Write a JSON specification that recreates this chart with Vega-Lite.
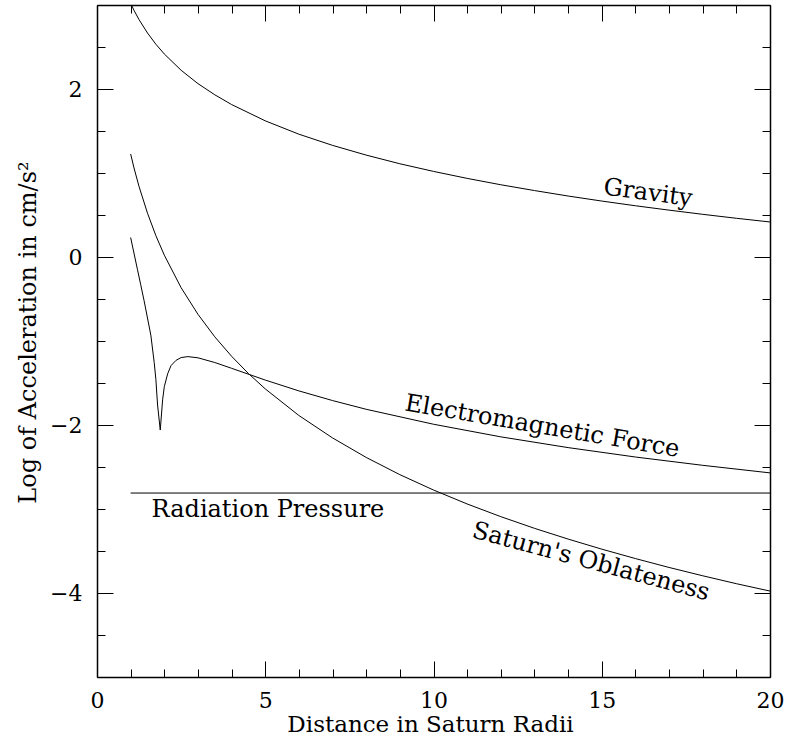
{
  "$schema": "https://vega.github.io/schema/vega-lite/v6.json",
  "width": 673,
  "height": 672,
  "autosize": "none",
  "padding": {"left": 97, "top": 5, "right": 18, "bottom": 66},
  "background": "white",
  "config": {
    "view": {"stroke": null},
    "font": "DejaVu Serif",
    "axis": {
      "grid": false,
      "domainColor": "black",
      "domainWidth": 1.5,
      "tickColor": "black",
      "tickWidth": 1,
      "labelFont": "DejaVu Serif",
      "labelFontSize": 22,
      "labelColor": "black",
      "titleFont": "DejaVu Serif",
      "titleFontSize": 24,
      "titleFontWeight": "normal",
      "titleColor": "black",
      "labelFlush": false,
      "labelOverlap": false
    }
  },
  "datasets": {
    "curves": [
      {"series": "Gravity", "r": 1.0, "a": 3.02},
      {"series": "Gravity", "r": 1.1, "a": 2.936},
      {"series": "Gravity", "r": 1.25, "a": 2.825},
      {"series": "Gravity", "r": 1.5, "a": 2.667},
      {"series": "Gravity", "r": 1.75, "a": 2.533},
      {"series": "Gravity", "r": 2.0, "a": 2.417},
      {"series": "Gravity", "r": 2.5, "a": 2.223},
      {"series": "Gravity", "r": 3.0, "a": 2.064},
      {"series": "Gravity", "r": 3.5, "a": 1.931},
      {"series": "Gravity", "r": 4.0, "a": 1.815},
      {"series": "Gravity", "r": 5.0, "a": 1.621},
      {"series": "Gravity", "r": 6.0, "a": 1.462},
      {"series": "Gravity", "r": 7.0, "a": 1.329},
      {"series": "Gravity", "r": 8.0, "a": 1.213},
      {"series": "Gravity", "r": 9.0, "a": 1.110},
      {"series": "Gravity", "r": 10.0, "a": 1.019},
      {"series": "Gravity", "r": 11.0, "a": 0.936},
      {"series": "Gravity", "r": 12.0, "a": 0.860},
      {"series": "Gravity", "r": 13.0, "a": 0.791},
      {"series": "Gravity", "r": 14.0, "a": 0.726},
      {"series": "Gravity", "r": 15.0, "a": 0.666},
      {"series": "Gravity", "r": 16.0, "a": 0.610},
      {"series": "Gravity", "r": 17.0, "a": 0.558},
      {"series": "Gravity", "r": 18.0, "a": 0.508},
      {"series": "Gravity", "r": 19.0, "a": 0.461},
      {"series": "Gravity", "r": 20.0, "a": 0.417},
      {"series": "Oblateness", "r": 1.0, "a": 1.226},
      {"series": "Oblateness", "r": 1.1, "a": 1.060},
      {"series": "Oblateness", "r": 1.25, "a": 0.838},
      {"series": "Oblateness", "r": 1.5, "a": 0.522},
      {"series": "Oblateness", "r": 1.75, "a": 0.254},
      {"series": "Oblateness", "r": 2.0, "a": 0.022},
      {"series": "Oblateness", "r": 2.5, "a": -0.366},
      {"series": "Oblateness", "r": 3.0, "a": -0.682},
      {"series": "Oblateness", "r": 3.5, "a": -0.950},
      {"series": "Oblateness", "r": 4.0, "a": -1.182},
      {"series": "Oblateness", "r": 4.5, "a": -1.387},
      {"series": "Oblateness", "r": 5.0, "a": -1.570},
      {"series": "Oblateness", "r": 6.0, "a": -1.887},
      {"series": "Oblateness", "r": 7.0, "a": -2.154},
      {"series": "Oblateness", "r": 8.0, "a": -2.386},
      {"series": "Oblateness", "r": 9.0, "a": -2.591},
      {"series": "Oblateness", "r": 10.0, "a": -2.774},
      {"series": "Oblateness", "r": 11.0, "a": -2.940},
      {"series": "Oblateness", "r": 12.0, "a": -3.091},
      {"series": "Oblateness", "r": 13.0, "a": -3.230},
      {"series": "Oblateness", "r": 14.0, "a": -3.358},
      {"series": "Oblateness", "r": 15.0, "a": -3.478},
      {"series": "Oblateness", "r": 16.0, "a": -3.590},
      {"series": "Oblateness", "r": 17.0, "a": -3.696},
      {"series": "Oblateness", "r": 18.0, "a": -3.795},
      {"series": "Oblateness", "r": 19.0, "a": -3.889},
      {"series": "Oblateness", "r": 20.0, "a": -3.977},
      {"series": "Electromagnetic", "r": 1.0, "a": 0.232},
      {"series": "Electromagnetic", "r": 1.2, "a": -0.145},
      {"series": "Electromagnetic", "r": 1.3, "a": -0.331},
      {"series": "Electromagnetic", "r": 1.4, "a": -0.522},
      {"series": "Electromagnetic", "r": 1.5, "a": -0.726},
      {"series": "Electromagnetic", "r": 1.6, "a": -0.930},
      {"series": "Electromagnetic", "r": 1.7, "a": -1.256},
      {"series": "Electromagnetic", "r": 1.75, "a": -1.459},
      {"series": "Electromagnetic", "r": 1.8, "a": -1.762},
      {"series": "Electromagnetic", "r": 1.88, "a": -2.06},
      {"series": "Electromagnetic", "r": 1.95, "a": -1.700},
      {"series": "Electromagnetic", "r": 2.0, "a": -1.544},
      {"series": "Electromagnetic", "r": 2.1, "a": -1.390},
      {"series": "Electromagnetic", "r": 2.2, "a": -1.293},
      {"series": "Electromagnetic", "r": 2.35, "a": -1.230},
      {"series": "Electromagnetic", "r": 2.5, "a": -1.197},
      {"series": "Electromagnetic", "r": 2.7, "a": -1.186},
      {"series": "Electromagnetic", "r": 3.0, "a": -1.200},
      {"series": "Electromagnetic", "r": 3.5, "a": -1.256},
      {"series": "Electromagnetic", "r": 4.0, "a": -1.325},
      {"series": "Electromagnetic", "r": 5.0, "a": -1.465},
      {"series": "Electromagnetic", "r": 6.0, "a": -1.594},
      {"series": "Electromagnetic", "r": 7.0, "a": -1.709},
      {"series": "Electromagnetic", "r": 8.0, "a": -1.813},
      {"series": "Electromagnetic", "r": 10.0, "a": -1.991},
      {"series": "Electromagnetic", "r": 12.0, "a": -2.141},
      {"series": "Electromagnetic", "r": 14.0, "a": -2.269},
      {"series": "Electromagnetic", "r": 16.0, "a": -2.381},
      {"series": "Electromagnetic", "r": 18.0, "a": -2.480},
      {"series": "Electromagnetic", "r": 20.0, "a": -2.570}
    ],
    "radiation": [{"r1": 1, "r2": 20, "a": -2.81}],
    "gravityLabel": [{"text": "Gravity", "r": 16.37, "a": 0.76}],
    "emLabel": [{"text": "Electromagnetic Force", "r": 13.23, "a": -2.02}],
    "oblLabel": [{"text": "Saturn's Oblateness", "r": 14.68, "a": -3.63}],
    "radLabel": [{"text": "Radiation Pressure", "r": 5.08, "a": -3.01}]
  },
  "layer": [
    {
      "data": {"name": "curves"},
      "mark": {"type": "line", "color": "black", "strokeWidth": 1, "clip": true},
      "encoding": {
        "x": {
          "field": "r", "type": "quantitative",
          "scale": {"domain": [0, 20], "nice": false, "zero": false},
          "axis": {
            "orient": "bottom",
            "title": "Distance in Saturn Radii",
            "titleX": 333, "titleY": 54, "titleFontSize": 23, "titleBaseline": "alphabetic", "titleAlign": "center",
            "values": [0, 5, 10, 15, 20],
            "format": "d",
            "tickSize": -16,
            "labelPadding": 29,
            "labelBaseline": "top"
          }
        },
        "y": {
          "field": "a", "type": "quantitative",
          "scale": {"domain": [-5, 3], "nice": false, "zero": false},
          "axis": {
            "orient": "left",
            "title": "Log of Acceleration in cm/s²",
            "titleX": -62, "titleY": 327, "titleAngle": 270, "titleBaseline": "alphabetic", "titleAlign": "center",
            "values": [-4, -2, 0, 2],
            "format": "d",
            "tickSize": -16,
            "labelPadding": 31,
            "labelBaseline": "middle"
          }
        },
        "detail": {"field": "series", "type": "nominal"}
      }
    },
    {
      "data": {"name": "radiation"},
      "mark": {"type": "rule", "color": "black", "strokeWidth": 1},
      "encoding": {
        "x": {
          "field": "r1", "type": "quantitative",
          "scale": {"domain": [0, 20], "nice": false, "zero": false},
          "axis": {"orient": "top", "title": null, "labels": false, "values": [0, 5, 10, 15, 20], "tickSize": -16}
        },
        "x2": {"field": "r2"},
        "y": {
          "field": "a", "type": "quantitative",
          "scale": {"domain": [-5, 3], "nice": false, "zero": false},
          "axis": {"orient": "right", "title": null, "labels": false, "values": [-4, -2, 0, 2], "tickSize": -16}
        }
      }
    },
    {
      "data": {"name": "gravityLabel"},
      "mark": {"type": "text", "angle": 7.5, "fontSize": 24, "font": "DejaVu Serif", "align": "center", "baseline": "middle", "color": "black"},
      "encoding": {
        "x": {
          "field": "r", "type": "quantitative",
          "axis": {"orient": "bottom", "title": null, "labels": false, "domain": false, "tickSize": -8,
                   "values": [1,2,3,4,6,7,8,9,11,12,13,14,16,17,18,19]}
        },
        "y": {
          "field": "a", "type": "quantitative",
          "axis": {"orient": "left", "title": null, "labels": false, "domain": false, "tickSize": -8,
                   "values": [-5,-4.5,-3.5,-3,-2.5,-1.5,-1,-0.5,0.5,1,1.5,2.5,3]}
        },
        "text": {"field": "text"}
      }
    },
    {
      "data": {"name": "emLabel"},
      "mark": {"type": "text", "angle": 9.7, "fontSize": 24, "font": "DejaVu Serif", "align": "center", "baseline": "middle", "color": "black"},
      "encoding": {
        "x": {
          "field": "r", "type": "quantitative",
          "axis": {"orient": "top", "title": null, "labels": false, "domain": false, "tickSize": -8,
                   "values": [1,2,3,4,6,7,8,9,11,12,13,14,16,17,18,19]}
        },
        "y": {
          "field": "a", "type": "quantitative",
          "axis": {"orient": "right", "title": null, "labels": false, "domain": false, "tickSize": -8,
                   "values": [-5,-4.5,-3.5,-3,-2.5,-1.5,-1,-0.5,0.5,1,1.5,2.5,3]}
        },
        "text": {"field": "text"}
      }
    },
    {
      "data": {"name": "oblLabel"},
      "mark": {"type": "text", "angle": 15, "fontSize": 24, "font": "DejaVu Serif", "align": "center", "baseline": "middle", "color": "black"},
      "encoding": {
        "x": {"field": "r", "type": "quantitative", "axis": null},
        "y": {"field": "a", "type": "quantitative", "axis": null},
        "text": {"field": "text"}
      }
    },
    {
      "data": {"name": "radLabel"},
      "mark": {"type": "text", "angle": 0, "fontSize": 24, "font": "DejaVu Serif", "align": "center", "baseline": "middle", "color": "black"},
      "encoding": {
        "x": {"field": "r", "type": "quantitative", "axis": null},
        "y": {"field": "a", "type": "quantitative", "axis": null},
        "text": {"field": "text"}
      }
    }
  ],
  "resolve": {"axis": {"x": "independent", "y": "independent"}}
}
